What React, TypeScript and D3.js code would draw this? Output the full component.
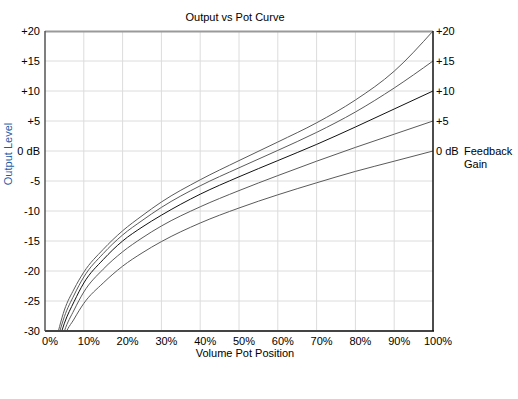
import { useEffect, useRef } from 'react';
import * as d3 from 'd3';

// pot position (%) where the output was read
const positions = [2.5, 5, 7.5, 10, 15, 20, 25, 30, 40, 50, 60, 70, 80, 90, 100];

// output level (dB) for each feedback gain setting
const fb20 = [-32.5, -26.5, -23, -20.2, -16.4, -13.3, -10.8, -8.5, -4.8, -1.6, 1.5, 4.7, 8.5, 13.3, 20];
const fb15 = [-33.2, -27.6, -24, -21.0, -17.1, -14.0, -11.6, -9.4, -5.8, -2.8, 0.1, 3.1, 6.5, 10.5, 15];
const fb10 = [-34.2, -28.7, -25.1, -22.0, -18.1, -15.0, -12.7, -10.7, -7.2, -4.3, -1.6, 1.1, 4.0, 7.0, 10];
const fb5 = [-36, -30.0, -26.5, -23.5, -19.7, -16.8, -14.5, -12.5, -9.3, -6.6, -4.1, -1.7, 0.6, 2.8, 5];
const fb0 = [-38, -31.0, -28.0, -25.4, -22.0, -19.2, -17.0, -15.1, -12.0, -9.5, -7.3, -5.3, -3.4, -1.7, 0];

const xTicks = [0, 10, 20, 30, 40, 50, 60, 70, 80, 90, 100];
const yTicks = [20, 15, 10, 5, 0, -5, -10, -15, -20, -25, -30];
const leftLabels = ['+20', '+15', '+10', '+5', '0 dB', '-5', '-10', '-15', '-20', '-25', '-30'];
const rightTicks = [20, 15, 10, 5, 0];
const rightLabels = ['+20', '+15', '+10', '+5', '0 dB'];

const W = 518;
const H = 399;
const FONT = 'Liberation Sans, Arial, sans-serif';

export default function App() {
  const svgRef = useRef<SVGSVGElement | null>(null);

  useEffect(() => {
    const el = svgRef.current;
    if (!el) return;
    d3.select(el).selectAll('*').remove();

    const margin = { top: 31, right: 85, bottom: 68, left: 45 };
    const w = W - margin.left - margin.right;
    const h = H - margin.top - margin.bottom;

    const svg = d3.select(el);
    const g = svg.append('g').attr('transform', `translate(${margin.left},${margin.top})`);

    const x = d3.scaleLinear().domain([0, 100]).range([0, w]);
    const y = d3.scaleLinear().domain([-30, 20]).range([h, 0]);

    // grid
    g.append('g')
      .selectAll('line.v')
      .data(xTicks.slice(1, -1))
      .join('line')
      .attr('x1', d => x(d)).attr('x2', d => x(d))
      .attr('y1', 0).attr('y2', h)
      .attr('stroke', '#dcdcdc').attr('stroke-width', 1);

    g.append('g')
      .selectAll('line.h')
      .data(yTicks.slice(1, -1))
      .join('line')
      .attr('x1', 0).attr('x2', w)
      .attr('y1', d => y(d)).attr('y2', d => y(d))
      .attr('stroke', '#dcdcdc').attr('stroke-width', 1);

    // curves
    g.append('clipPath').attr('id', 'plot-clip')
      .append('rect').attr('x', 0).attr('y', 0).attr('width', w).attr('height', h);

    const line = d3.line<number>()
      .x((_, i) => x(positions[i]))
      .y(d => y(d))
      .curve(d3.curveMonotoneX);

    const series = [
      { vals: fb20, color: '#5a5a5a' },
      { vals: fb15, color: '#5a5a5a' },
      { vals: fb10, color: '#111111' },
      { vals: fb5, color: '#5a5a5a' },
      { vals: fb0, color: '#5a5a5a' },
    ];

    series.forEach(s => {
      g.append('path')
        .datum(s.vals)
        .attr('clip-path', 'url(#plot-clip)')
        .attr('fill', 'none')
        .attr('stroke', s.color)
        .attr('stroke-width', 1)
        .attr('d', line);
    });

    // frame
    g.append('line').attr('x1', 0).attr('x2', w).attr('y1', 0.5).attr('y2', 0.5)
      .attr('stroke', '#9a9a9a').attr('stroke-width', 2);
    g.append('line').attr('x1', 0).attr('x2', 0).attr('y1', 0).attr('y2', h)
      .attr('stroke', '#555').attr('stroke-width', 1.5);
    g.append('line').attr('x1', 0).attr('x2', w + 1).attr('y1', h).attr('y2', h)
      .attr('stroke', '#444').attr('stroke-width', 2);
    g.append('line').attr('x1', w).attr('x2', w).attr('y1', 0).attr('y2', h)
      .attr('stroke', '#111').attr('stroke-width', 1.5);

    const txt = (sel: d3.Selection<SVGTextElement, any, any, any>) =>
      sel.style('font-family', FONT).style('font-size', '11px').style('fill', '#000');

    // left tick labels
    g.append('g')
      .selectAll('text')
      .data(yTicks)
      .join('text')
      .attr('x', -5)
      .attr('y', d => y(d))
      .attr('dy', '0.35em')
      .attr('text-anchor', 'end')
      .text((_, i) => leftLabels[i])
      .call(txt);

    // right tick labels
    g.append('g')
      .selectAll('text')
      .data(rightTicks)
      .join('text')
      .attr('x', w + 3)
      .attr('y', d => y(d))
      .attr('dy', '0.35em')
      .text((_, i) => rightLabels[i])
      .call(txt);

    g.append('text')
      .attr('x', w + 31).attr('y', y(0)).attr('dy', '0.35em')
      .text('Feedback').call(txt);
    g.append('text')
      .attr('x', w + 31).attr('y', y(0) + 13).attr('dy', '0.35em')
      .text('Gain').call(txt);

    // bottom tick labels
    g.append('g')
      .selectAll('text')
      .data(xTicks)
      .join('text')
      .attr('x', d => x(d) + 5)
      .attr('y', h + 14)
      .attr('text-anchor', 'middle')
      .text(d => `${d}%`)
      .call(txt);

    // titles
    svg.append('text')
      .attr('x', 235).attr('y', 21)
      .attr('text-anchor', 'middle')
      .text('Output vs Pot Curve').call(txt);

    g.append('text')
      .attr('x', w / 2 + 6).attr('y', h + 26)
      .attr('text-anchor', 'middle')
      .text('Volume Pot Position').call(txt);

    svg.append('text')
      .attr('transform', `translate(12,${margin.top + y(0) + 3}) rotate(-90)`)
      .attr('text-anchor', 'middle')
      .text('Output Level')
      .call(txt)
      .style('fill', '#1f5aa6');
  }, []);

  return (
    <svg
      ref={svgRef}
      width={W}
      height={H}
      style={{ position: 'absolute', left: 0, top: 0, background: '#fff' }}
    />
  );
}
